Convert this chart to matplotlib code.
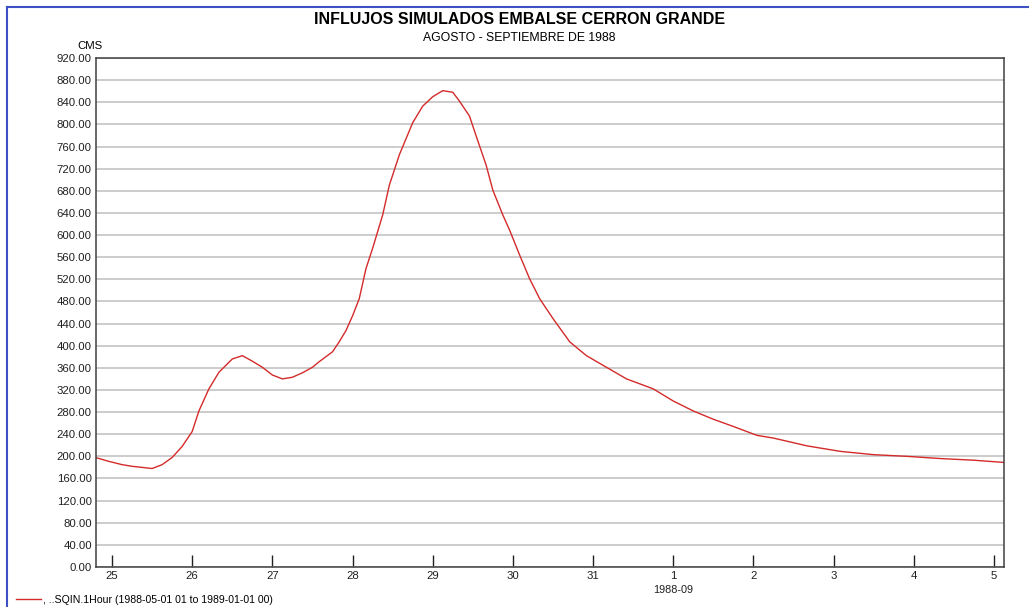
import pandas as pd
import numpy as np
import matplotlib
matplotlib.use("Agg")
import matplotlib.pyplot as plt
import matplotlib.dates as mdates
from matplotlib.lines import Line2D

# hours after 1988-08-25 00:00 and simulated inflow (CMS)
hours = [-5, -1, 3, 6, 12, 15, 18, 21, 24, 26, 29, 32, 36, 39, 42, 45, 48, 51,
         54, 57, 60, 62, 66, 68, 70, 72, 74, 76, 78, 81, 83, 86, 90, 93, 96,
         99, 102, 104, 107, 109, 112, 114, 117, 119, 122, 125, 128, 132, 137,
         142, 148, 154, 162, 168, 174, 180, 186, 193, 198, 208, 218, 228, 238,
         248, 258, 267]
flow = [198, 191, 185, 182, 178, 185, 198, 218, 245, 282, 322, 352, 376, 382,
        372, 361, 347, 340, 343, 351, 361, 371, 389, 407, 427, 454, 485, 539,
        576, 636, 690, 745, 803, 833, 850, 861, 858, 842, 815, 779, 726, 681,
        636, 609, 564, 521, 485, 449, 407, 382, 361, 340, 322, 300, 282, 267,
        254, 238, 233, 219, 209, 203, 200, 196, 193, 189]
yticks = np.arange(0, 921, 40)

start = pd.Timestamp("1988-08-25 00:00")
times = [start + pd.Timedelta(hours=h) for h in hours]

plt.rcParams['font.family'] = ['Liberation Sans', 'DejaVu Sans']

fig = plt.figure(figsize=(10.29, 6.07), dpi=100)
ax = fig.add_axes([96/1029, 1-567/607, 908/1029, 509/607])

ax.plot(times, flow, color='#d42a2a', lw=1.0,
        label=', ..SQIN.1Hour (1988-05-01 01 to 1989-01-01 00)')

ax.set_ylim(0, 920)
ax.set_yticks(yticks)
ax.set_yticklabels(['%.2f' % v for v in yticks])
ax.set_xlim(start - pd.Timedelta(hours=4.8), pd.Timestamp("1988-09-05 03:00"))
ax.xaxis.set_major_locator(mdates.DayLocator())
ax.xaxis.set_major_formatter(mdates.DateFormatter('%-d'))

ax.grid(axis='y', color='#c4c4c4', lw=1.2)
ax.set_axisbelow(True)
ax.tick_params(axis='y', length=0, pad=3, labelsize=8.2, colors='#202020')
ax.tick_params(axis='x', direction='in', length=8.5, width=1, pad=3,
               labelsize=8.2, colors='#202020')
for s in ax.spines.values():
    s.set_color('#404040')
    s.set_linewidth(1.1)

ax.text(pd.Timestamp("1988-09-01"), -0.046, '1988-09', fontsize=7.8,
        ha='center', va='center', color='#202020',
        transform=ax.get_xaxis_transform())

fig.text(0.505, 0.968, 'INFLUJOS SIMULADOS EMBALSE CERRON GRANDE',
         fontsize=11.5, fontweight='bold', ha='center', va='center')
fig.text(0.505, 0.937, 'AGOSTO - SEPTIEMBRE DE 1988', fontsize=8.8,
         ha='center', va='center')
fig.text(90/1029, 1-46/607, 'CMS', fontsize=8.2, ha='center', va='center')

# blue frame on the top and left edges
fig.add_artist(Line2D([7/1029, 7/1029], [0, 1-7/607], color='#3f4fc4', lw=1.5))
fig.add_artist(Line2D([7/1029, 1], [1-7/607, 1-7/607], color='#3f4fc4', lw=1.5))

fig.legend(loc='lower left', bbox_to_anchor=(0.006, -0.012), frameon=False,
           fontsize=7.6, handlelength=2.4, handletextpad=0.2)

fig.savefig('out.png', dpi=100)
